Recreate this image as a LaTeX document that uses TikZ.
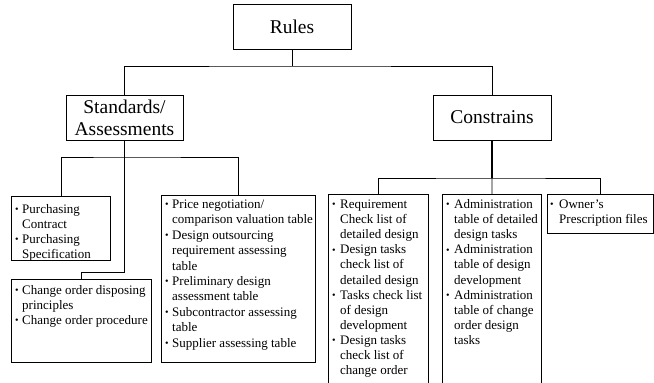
\documentclass[tikz,border=0pt]{standalone}
\usepackage{fontspec}
\setmainfont{Liberation Serif}

% small list bullet with a fixed-width slot
\newcommand{\bul}[1][7pt]{\makebox[#1][l]{\raisebox{0.6pt}{\fontsize{10}{10}\selectfont\textbullet}}}
% continuation indent
\newcommand{\ind}[1][7pt]{\hspace*{#1}}
% list block: first-line baseline is the node baseline
\newcommand{\blist}[2]{{\fontsize{13}{#1}\selectfont\begin{tabular}[t]{@{}l@{}}#2\end{tabular}}}

\begin{document}
\begin{tikzpicture}[x=1pt,y=-1pt,
  link/.style={draw, line width=0.8pt},
  head/.style={draw, line width=0.8pt, inner sep=0pt, align=center,
    font=\fontsize{19.5}{21.7}\selectfont},
  panel/.style={draw, line width=0.8pt, inner sep=0pt, anchor=north west},
  listtext/.style={inner sep=0pt, anchor=base west}]
\useasboundingbox (0,0) rectangle (654,383);
\clip (0,0) rectangle (654,383);

% top-level headings
\node[head, minimum width=118pt, minimum height=45pt] (rules) at (292,26.5) {Rules};
\node[head, minimum width=117pt, minimum height=45pt] (std) at (124.5,117.5) {Standards/\\Assessments};
\node[head, minimum width=118pt, minimum height=45pt] (con) at (492,117.5) {Constrains};

% list panels
\node[panel, minimum width=99pt, minimum height=64pt] (A) at (11,196) {};
\node[panel, minimum width=140pt, minimum height=83pt] (B) at (11,279) {};
\node[panel, minimum width=154pt, minimum height=167pt] (C) at (161,195) {};
\node[panel, minimum width=100pt, minimum height=200pt] (D) at (328,194) {};
\node[panel, minimum width=99pt, minimum height=200pt] (E) at (442,194) {};
\node[panel, minimum width=106pt, minimum height=39pt] (F) at (547,194) {};

% list contents
\node[listtext] (Atext) at (15,213.5) {\blist{15}{%
  \bul Purchasing\\ \ind Contract\\
  \bul Purchasing\\ \ind Specification}};
\node[listtext] (Btext) at (15,294) {\blist{15}{%
  \bul Change order disposing\\ \ind principles\\
  \bul Change order procedure}};
\node[listtext] (Ctext) at (165,208.5) {\blist{15.4}{%
  \bul Price negotiation/\\ \ind comparison valuation table\\
  \bul Design outsourcing\\ \ind requirement assessing\\ \ind table\\
  \bul Preliminary design\\ \ind assessment table\\
  \bul Subcontractor assessing\\ \ind table\\
  \bul Supplier assessing table}};
\node[listtext] (Dtext) at (332,208.5) {\blist{15.1}{%
  \bul[8pt]Requirement\\ \ind[8pt]Check list of\\ \ind[8pt]detailed design\\
  \bul[8pt]Design tasks\\ \ind[8pt]check list of\\ \ind[8pt]detailed design\\
  \bul[8pt]Tasks check list\\ \ind[8pt]of design\\ \ind[8pt]development\\
  \bul[8pt]Design tasks\\ \ind[8pt]check list of\\ \ind[8pt]change order}};
\node[listtext] (Etext) at (446,208.5) {\blist{15.1}{%
  \bul[8pt]Administration\\ \ind[8pt]table of detailed\\ \ind[8pt]design tasks\\
  \bul[8pt]Administration\\ \ind[8pt]table of design\\ \ind[8pt]development\\
  \bul[8pt]Administration\\ \ind[8pt]table of change\\ \ind[8pt]order design\\ \ind[8pt]tasks}};
\node[listtext] (Ftext) at (550,208.5) {\blist{15}{%
  \bul[9pt]Owner's\\ \ind[9pt]Prescription files}};

% connectors
\coordinate (busR) at (292,66);
\draw[link] (rules.south) -- (busR);
\draw[link] (std.north) |- (busR) -| (con.north);

\coordinate (busS) at (124.5,157);
\draw[link] (std.south) -- (busS);
\draw[link] (A.north) |- (busS) -| (C.north);
\coordinate (bendB) at (124.5,272);
\draw[link] (busS) -- (bendB) -| (B.north);

\coordinate (busC) at (492,178);
\draw[line width=1.6pt] (con.south) -- (busC);
\draw[link] (D.north) |- (busC) -| (F.north);
\draw[link] (busC) -- (E.north);
\end{tikzpicture}
\end{document}
